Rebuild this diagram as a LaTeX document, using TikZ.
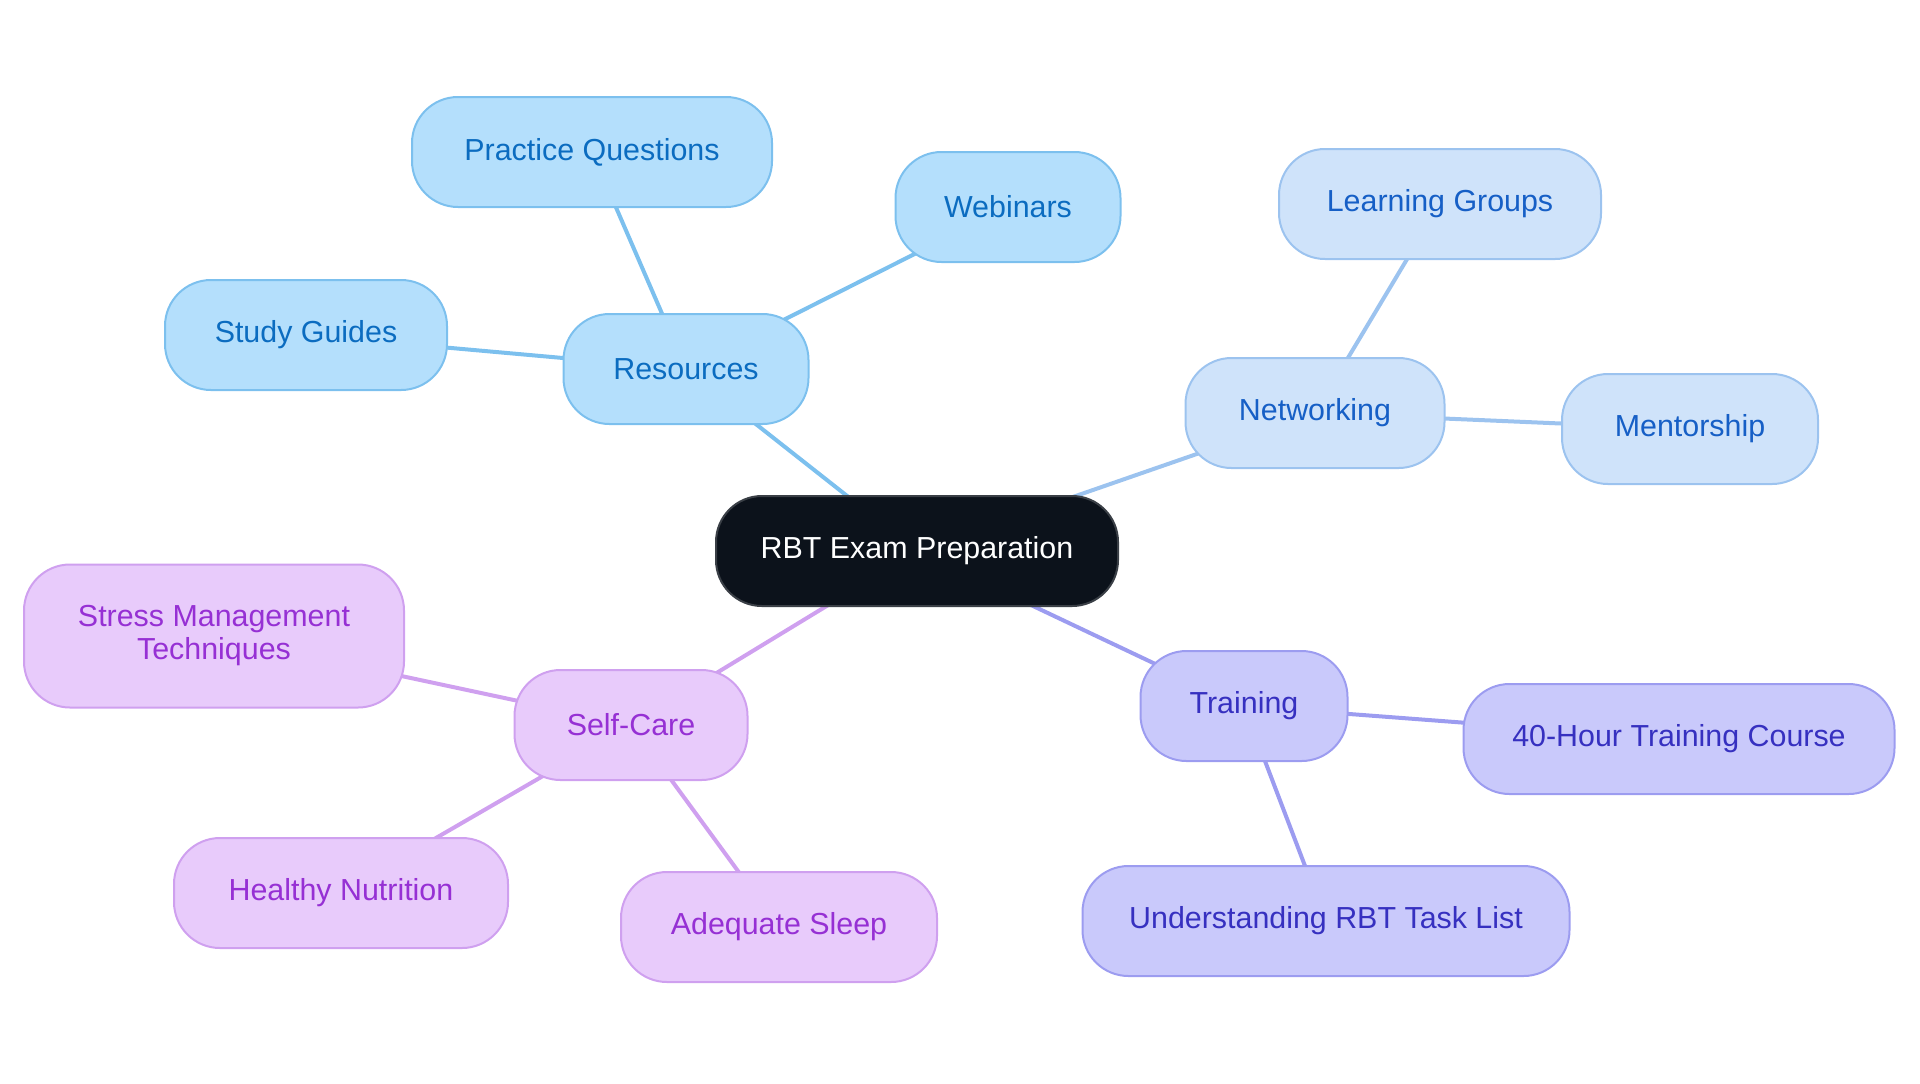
\documentclass[tikz,border=0pt]{standalone}
\usepackage{fontspec}
\setmainfont{Liberation Sans}
\usetikzlibrary{backgrounds}
\definecolor{rootfill}{HTML}{0C121B}
\definecolor{rootdraw}{HTML}{3A3F46}
\definecolor{resfill}{HTML}{B4DFFC}
\definecolor{resdraw}{HTML}{7CC0EE}
\definecolor{restext}{HTML}{0B6CC0}
\definecolor{netfill}{HTML}{CFE3FA}
\definecolor{netdraw}{HTML}{9CC3EF}
\definecolor{nettext}{HTML}{165FC6}
\definecolor{trfill}{HTML}{C9C9FB}
\definecolor{trdraw}{HTML}{9C9CF0}
\definecolor{trtext}{HTML}{3630C0}
\definecolor{scfill}{HTML}{E8CBFB}
\definecolor{scdraw}{HTML}{CFA0EF}
\definecolor{sctext}{HTML}{9630D4}
\tikzset{
  box/.style={rounded corners=23pt, line width=1pt, minimum height=55pt, inner sep=0pt,
    font=\fontsize{15.2pt}{16pt}\selectfont, align=center},
  rootbox/.style={box, fill=rootfill, draw=rootdraw, text=white},
  resbox/.style={box, fill=resfill, draw=resdraw, text=restext},
  netbox/.style={box, fill=netfill, draw=netdraw, text=nettext},
  trbox/.style={box, fill=trfill, draw=trdraw, text=trtext},
  scbox/.style={box, fill=scfill, draw=scdraw, text=sctext},
  link/.style={line width=2pt},
}
\begin{document}
\begin{tikzpicture}[x=0.5pt,y=-0.5pt]
\useasboundingbox (0,0) rectangle (1920,1083);
\node[rootbox, minimum width=201pt] (root) at (917,551) {RBT Exam Preparation};
\node[resbox, minimum width=122.5pt] (res) at (686,369) {Resources};
\node[resbox, minimum width=180pt] (pq) at (592,152) {Practice Questions};
\node[resbox, minimum width=112.5pt] (web) at (1008,207) {Webinars};
\node[resbox, minimum width=141pt] (sg) at (306,335) {Study Guides};
\node[netbox, minimum width=129.5pt] (net) at (1315,413) {Networking};
\node[netbox, minimum width=161pt] (lg) at (1440,204) {Learning Groups};
\node[netbox, minimum width=128pt] (ment) at (1690,429) {Mentorship};
\node[trbox, minimum width=103.5pt] (train) at (1244,706) {Training};
\node[trbox, minimum width=215.5pt] (forty) at (1679,739) {40-Hour Training Course};
\node[trbox, minimum width=243.5pt] (task) at (1326,921) {Understanding RBT Task List};
\node[scbox, minimum width=116.5pt] (self) at (631,725) {Self-Care};
\node[scbox, minimum width=190pt, minimum height=71.5pt] (stress) at (214,636) {Stress Management\\[0.5pt]Techniques};
\node[scbox, minimum width=167pt] (nutr) at (341,893) {Healthy Nutrition};
\node[scbox, minimum width=158pt] (sleep) at (779,927) {Adequate Sleep};
\begin{scope}[on background layer]
\draw[link, resdraw] (root.center) -- (res.center);
\draw[link, resdraw] (res.center) -- (pq.center);
\draw[link, resdraw] (res.center) -- (web.center);
\draw[link, resdraw] (res.center) -- (sg.center);
\draw[link, netdraw] (root.center) -- (net.center);
\draw[link, netdraw] (net.center) -- (lg.center);
\draw[link, netdraw] (net.center) -- (ment.center);
\draw[link, trdraw] (root.center) -- (train.center);
\draw[link, trdraw] (train.center) -- (forty.center);
\draw[link, trdraw] (train.center) -- (task.center);
\draw[link, scdraw] (root.center) -- (self.center);
\draw[link, scdraw] (self.center) -- (stress.center);
\draw[link, scdraw] (self.center) -- (nutr.center);
\draw[link, scdraw] (self.center) -- (sleep.center);
\end{scope}
\end{tikzpicture}
\end{document}
